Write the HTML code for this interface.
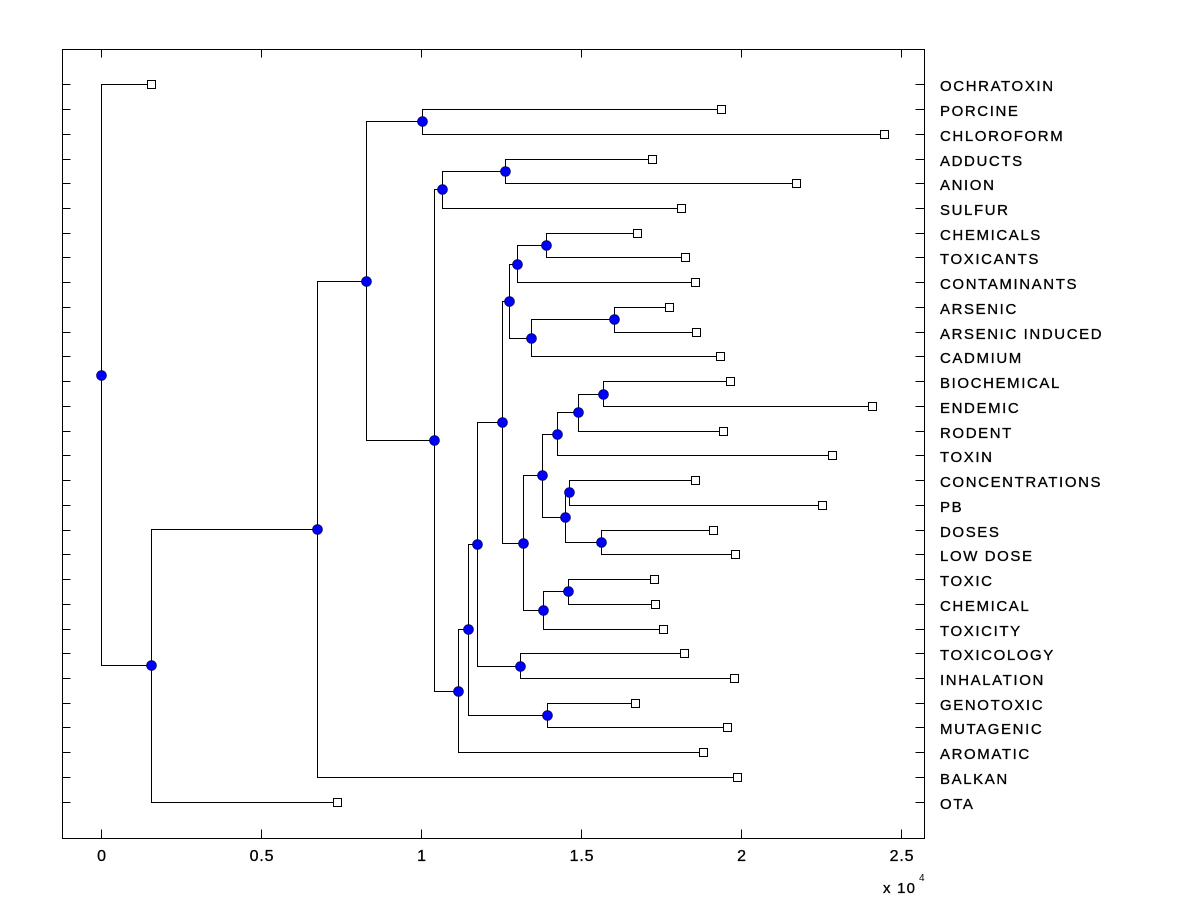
<!DOCTYPE html>
<html>
<head>
<meta charset="utf-8">
<style>
  html, body { margin: 0; padding: 0; background: #ffffff; }
  svg { display: block; }
  .lbl { font-family: "Liberation Sans", Arial, sans-serif; font-size: 15px; letter-spacing: 1.6px; fill: #000; stroke: #000; stroke-width: 0.3px; }
  .tck { font-family: "Liberation Sans", Arial, sans-serif; font-size: 16px; letter-spacing: 0.8px; fill: #000; stroke: #000; stroke-width: 0.3px; }
</style>
</head>
<body>
<svg width="1200" height="900" viewBox="0 0 1200 900" xmlns="http://www.w3.org/2000/svg">
  <rect x="0" y="0" width="1200" height="900" fill="#ffffff"/>

  <!-- axes box -->
  <g stroke="#000" stroke-width="1" fill="none" shape-rendering="crispEdges">
    <rect x="62.5" y="49.5" width="862" height="789"/>
    <path d="M101.5 838.5V829.5 M261.5 838.5V829.5 M421.5 838.5V829.5 M581.5 838.5V829.5 M741.5 838.5V829.5 M901.5 838.5V829.5"/>
    <path d="M101.5 49.5V57.5 M261.5 49.5V57.5 M421.5 49.5V57.5 M581.5 49.5V57.5 M741.5 49.5V57.5 M901.5 49.5V57.5"/>
    <path d="M62.5 84.5H70.5 M62.5 109.5H70.5 M62.5 134.5H70.5 M62.5 159.5H70.5 M62.5 183.5H70.5 M62.5 208.5H70.5 M62.5 233.5H70.5 M62.5 257.5H70.5 M62.5 282.5H70.5 M62.5 307.5H70.5 M62.5 332.5H70.5 M62.5 356.5H70.5 M62.5 381.5H70.5 M62.5 406.5H70.5 M62.5 431.5H70.5 M62.5 455.5H70.5 M62.5 480.5H70.5 M62.5 505.5H70.5 M62.5 530.5H70.5 M62.5 554.5H70.5 M62.5 579.5H70.5 M62.5 604.5H70.5 M62.5 629.5H70.5 M62.5 653.5H70.5 M62.5 678.5H70.5 M62.5 703.5H70.5 M62.5 727.5H70.5 M62.5 752.5H70.5 M62.5 777.5H70.5 M62.5 802.5H70.5"/>
    <path d="M924.5 84.5H915.5 M924.5 109.5H915.5 M924.5 134.5H915.5 M924.5 159.5H915.5 M924.5 183.5H915.5 M924.5 208.5H915.5 M924.5 233.5H915.5 M924.5 257.5H915.5 M924.5 282.5H915.5 M924.5 307.5H915.5 M924.5 332.5H915.5 M924.5 356.5H915.5 M924.5 381.5H915.5 M924.5 406.5H915.5 M924.5 431.5H915.5 M924.5 455.5H915.5 M924.5 480.5H915.5 M924.5 505.5H915.5 M924.5 530.5H915.5 M924.5 554.5H915.5 M924.5 579.5H915.5 M924.5 604.5H915.5 M924.5 629.5H915.5 M924.5 653.5H915.5 M924.5 678.5H915.5 M924.5 703.5H915.5 M924.5 727.5H915.5 M924.5 752.5H915.5 M924.5 777.5H915.5 M924.5 802.5H915.5"/>
  </g>

  <!-- dendrogram links -->
  <g stroke="#000" stroke-width="1" fill="none" shape-rendering="crispEdges">
    <path d="M151.5 84.5 H101.5 V665.5 H151.5"/>
    <path d="M317.5 529.5 H151.5 V802.5 H337.5"/>
    <path d="M366.5 281.5 H317.5 V777.5 H737.5"/>
    <path d="M422.5 121.5 H366.5 V440.5 H434.5"/>
    <path d="M721.5 109.5 H422.5 V134.5 H884.5"/>
    <path d="M442.5 189.5 H434.5 V691.5 H458.5"/>
    <path d="M505.5 171.5 H442.5 V208.5 H681.5"/>
    <path d="M652.5 159.5 H505.5 V183.5 H796.5"/>
    <path d="M468.5 629.5 H458.5 V752.5 H703.5"/>
    <path d="M477.5 544.5 H468.5 V715.5 H547.5"/>
    <path d="M635.5 703.5 H547.5 V727.5 H727.5"/>
    <path d="M502.5 422.5 H477.5 V666.5 H520.5"/>
    <path d="M684.5 653.5 H520.5 V678.5 H734.5"/>
    <path d="M509.5 301.5 H502.5 V543.5 H523.5"/>
    <path d="M517.5 264.5 H509.5 V338.5 H531.5"/>
    <path d="M546.5 245.5 H517.5 V282.5 H695.5"/>
    <path d="M637.5 233.5 H546.5 V257.5 H685.5"/>
    <path d="M614.5 319.5 H531.5 V356.5 H720.5"/>
    <path d="M669.5 307.5 H614.5 V332.5 H696.5"/>
    <path d="M542.5 475.5 H523.5 V610.5 H543.5"/>
    <path d="M557.5 434.5 H542.5 V517.5 H565.5"/>
    <path d="M578.5 412.5 H557.5 V455.5 H832.5"/>
    <path d="M603.5 394.5 H578.5 V431.5 H723.5"/>
    <path d="M730.5 381.5 H603.5 V406.5 H872.5"/>
    <path d="M569.5 492.5 H565.5 V542.5 H601.5"/>
    <path d="M695.5 480.5 H569.5 V505.5 H822.5"/>
    <path d="M713.5 530.5 H601.5 V554.5 H735.5"/>
    <path d="M568.5 591.5 H543.5 V629.5 H663.5"/>
    <path d="M654.5 579.5 H568.5 V604.5 H655.5"/>
  </g>

  <!-- leaf squares -->
  <g stroke="#000" stroke-width="1" fill="#fff" shape-rendering="crispEdges">
    <rect x="147.5" y="80.5" width="8" height="8"/>
    <rect x="717.5" y="105.5" width="8" height="8"/>
    <rect x="880.5" y="130.5" width="8" height="8"/>
    <rect x="648.5" y="155.5" width="8" height="8"/>
    <rect x="792.5" y="179.5" width="8" height="8"/>
    <rect x="677.5" y="204.5" width="8" height="8"/>
    <rect x="633.5" y="229.5" width="8" height="8"/>
    <rect x="681.5" y="253.5" width="8" height="8"/>
    <rect x="691.5" y="278.5" width="8" height="8"/>
    <rect x="665.5" y="303.5" width="8" height="8"/>
    <rect x="692.5" y="328.5" width="8" height="8"/>
    <rect x="716.5" y="352.5" width="8" height="8"/>
    <rect x="726.5" y="377.5" width="8" height="8"/>
    <rect x="868.5" y="402.5" width="8" height="8"/>
    <rect x="719.5" y="427.5" width="8" height="8"/>
    <rect x="828.5" y="451.5" width="8" height="8"/>
    <rect x="691.5" y="476.5" width="8" height="8"/>
    <rect x="818.5" y="501.5" width="8" height="8"/>
    <rect x="709.5" y="526.5" width="8" height="8"/>
    <rect x="731.5" y="550.5" width="8" height="8"/>
    <rect x="650.5" y="575.5" width="8" height="8"/>
    <rect x="651.5" y="600.5" width="8" height="8"/>
    <rect x="659.5" y="625.5" width="8" height="8"/>
    <rect x="680.5" y="649.5" width="8" height="8"/>
    <rect x="730.5" y="674.5" width="8" height="8"/>
    <rect x="631.5" y="699.5" width="8" height="8"/>
    <rect x="723.5" y="723.5" width="8" height="8"/>
    <rect x="699.5" y="748.5" width="8" height="8"/>
    <rect x="733.5" y="773.5" width="8" height="8"/>
    <rect x="333.5" y="798.5" width="8" height="8"/>
  </g>

  <!-- internal nodes -->
  <g fill="#0000ff" stroke="#000060" stroke-width="0.8">
    <circle cx="101.5" cy="375.5" r="4.9"/>
    <circle cx="151.5" cy="665.5" r="4.9"/>
    <circle cx="317.5" cy="529.5" r="4.9"/>
    <circle cx="366.5" cy="281.5" r="4.9"/>
    <circle cx="422.5" cy="121.5" r="4.9"/>
    <circle cx="434.5" cy="440.5" r="4.9"/>
    <circle cx="442.5" cy="189.5" r="4.9"/>
    <circle cx="505.5" cy="171.5" r="4.9"/>
    <circle cx="458.5" cy="691.5" r="4.9"/>
    <circle cx="468.5" cy="629.5" r="4.9"/>
    <circle cx="547.5" cy="715.5" r="4.9"/>
    <circle cx="477.5" cy="544.5" r="4.9"/>
    <circle cx="520.5" cy="666.5" r="4.9"/>
    <circle cx="502.5" cy="422.5" r="4.9"/>
    <circle cx="509.5" cy="301.5" r="4.9"/>
    <circle cx="517.5" cy="264.5" r="4.9"/>
    <circle cx="546.5" cy="245.5" r="4.9"/>
    <circle cx="531.5" cy="338.5" r="4.9"/>
    <circle cx="614.5" cy="319.5" r="4.9"/>
    <circle cx="523.5" cy="543.5" r="4.9"/>
    <circle cx="542.5" cy="475.5" r="4.9"/>
    <circle cx="557.5" cy="434.5" r="4.9"/>
    <circle cx="578.5" cy="412.5" r="4.9"/>
    <circle cx="603.5" cy="394.5" r="4.9"/>
    <circle cx="565.5" cy="517.5" r="4.9"/>
    <circle cx="569.5" cy="492.5" r="4.9"/>
    <circle cx="601.5" cy="542.5" r="4.9"/>
    <circle cx="543.5" cy="610.5" r="4.9"/>
    <circle cx="568.5" cy="591.5" r="4.9"/>
  </g>

  <!-- row labels -->
  <g class="lbl">
    <text x="940" y="91">OCHRATOXIN</text>
    <text x="940" y="116">PORCINE</text>
    <text x="940" y="141">CHLOROFORM</text>
    <text x="940" y="166">ADDUCTS</text>
    <text x="940" y="190">ANION</text>
    <text x="940" y="215">SULFUR</text>
    <text x="940" y="240">CHEMICALS</text>
    <text x="940" y="264">TOXICANTS</text>
    <text x="940" y="289">CONTAMINANTS</text>
    <text x="940" y="314">ARSENIC</text>
    <text x="940" y="339">ARSENIC INDUCED</text>
    <text x="940" y="363">CADMIUM</text>
    <text x="940" y="388">BIOCHEMICAL</text>
    <text x="940" y="413">ENDEMIC</text>
    <text x="940" y="438">RODENT</text>
    <text x="940" y="462">TOXIN</text>
    <text x="940" y="487">CONCENTRATIONS</text>
    <text x="940" y="512">PB</text>
    <text x="940" y="537">DOSES</text>
    <text x="940" y="561">LOW DOSE</text>
    <text x="940" y="586">TOXIC</text>
    <text x="940" y="611">CHEMICAL</text>
    <text x="940" y="636">TOXICITY</text>
    <text x="940" y="660">TOXICOLOGY</text>
    <text x="940" y="685">INHALATION</text>
    <text x="940" y="710">GENOTOXIC</text>
    <text x="940" y="734">MUTAGENIC</text>
    <text x="940" y="759">AROMATIC</text>
    <text x="940" y="784">BALKAN</text>
    <text x="940" y="809">OTA</text>
  </g>

  <!-- x tick labels -->
  <g class="tck" text-anchor="middle">
    <text x="102" y="861">0</text>
    <text x="262" y="861">0.5</text>
    <text x="422" y="861">1</text>
    <text x="582" y="861">1.5</text>
    <text x="742" y="861">2</text>
    <text x="902" y="861">2.5</text>
  </g>
  <text x="883" y="893" style="font-family:'Liberation Sans', Arial, sans-serif; font-size:15px; letter-spacing:1.2px; stroke:#000; stroke-width:0.3px;" fill="#000">x 10</text>
  <text x="919" y="881" style="font-family:'Liberation Sans', Arial, sans-serif; font-size:10px;" fill="#000">4</text>
</svg>
</body>
</html>
